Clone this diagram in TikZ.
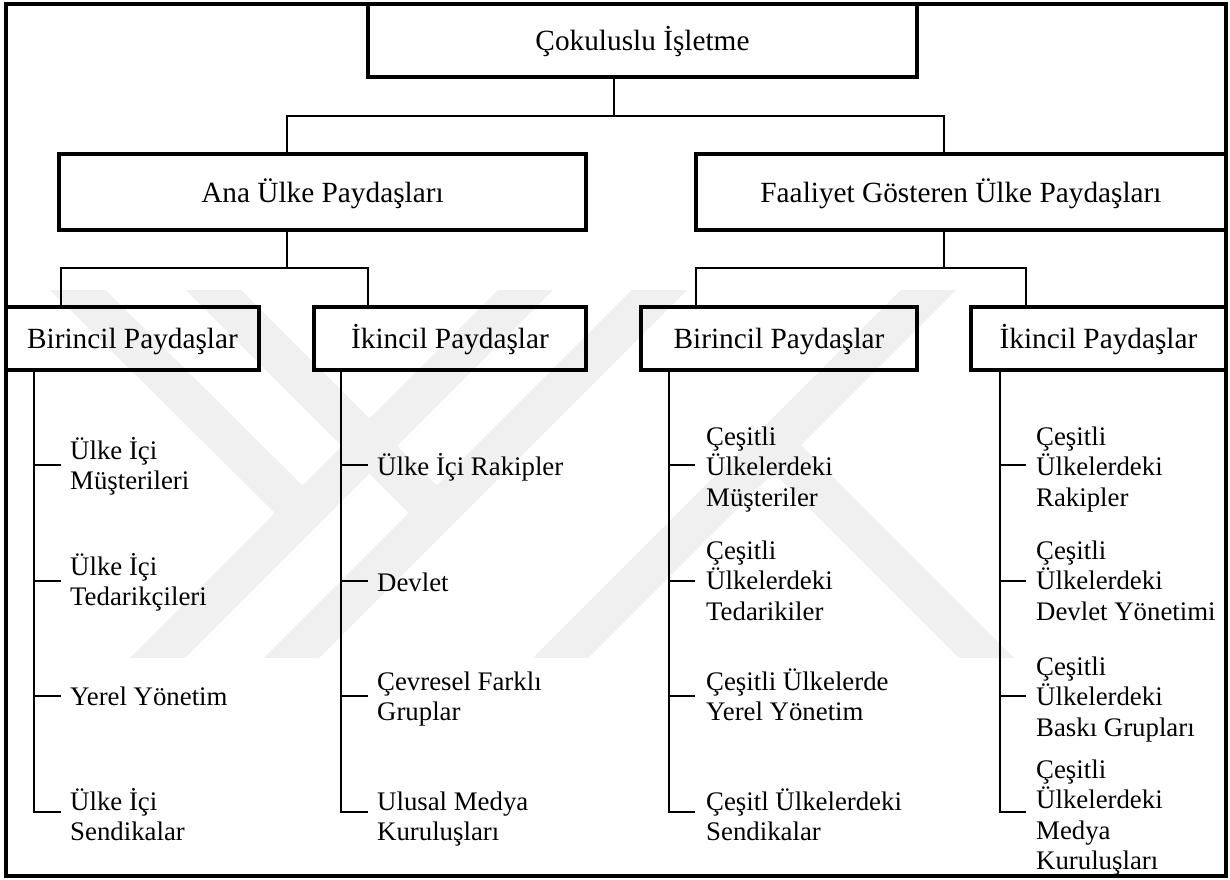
\documentclass[tikz,border=0pt]{standalone}
\usepackage{fontspec}
\setmainfont{Liberation Serif}
\newcommand{\boxfont}{\fontsize{29.3}{34}\selectfont}
\newcommand{\leaffont}{\fontsize{26.8}{30.5}\selectfont}
\newcommand{\lfitem}[1]{\vtop{\lineskiplimit=-100pt\relax #1}}
\begin{document}
\begin{tikzpicture}[x=1pt,y=-1pt,
  box/.style={draw, line width=3.5pt, inner sep=0pt, font=\boxfont, text height=26pt, text depth=6pt},
  conn/.style={line width=2.5pt, line join=miter},
  leaf/.style={anchor=base west, inner sep=0pt, font=\leaffont},
  wm/.style={line width=39pt, draw=black!6, line join=miter}]
\useasboundingbox (0,0) rectangle (1230,879);
\fill[white] (0,0) rectangle (1230,879);
% watermark
\begin{scope}
  \clip (0,290) rectangle (1230,657);
  \draw[wm] (118.5,697) -- (565.5,250);
  \draw[wm] (37.5,250) -- (302.5,513);
  \draw[wm] (252.5,697) -- (699.5,250);
  \draw[wm] (173.5,250) -- (436.5,513);
  \draw[wm] (521.5,697) -- (968.5,250);
  \draw[wm] (773.5,445) -- (1025.5,697);
\end{scope}
% frame
\draw[line width=3.5pt] (6,4) rectangle (1226,876);
% boxes
\node[box, minimum width=549pt, minimum height=73pt] (top) at (642.5,40.5) {Çokuluslu İşletme};
\node[box, minimum width=527pt, minimum height=76pt] (ana) at (322.5,192) {Ana Ülke Paydaşları};
\node[box, minimum width=530pt, minimum height=76pt] (faal) at (961,192) {Faaliyet Gösteren Ülke Paydaşları};
\node[box, minimum width=253pt, minimum height=63pt] (bl) at (132.5,338.5) {Birincil Paydaşlar};
\node[box, minimum width=272pt, minimum height=63pt] (il) at (450,338.5) {İkincil Paydaşlar};
\node[box, minimum width=276pt, minimum height=63pt] (br) at (779,338.5) {Birincil Paydaşlar};
\node[box, minimum width=255pt, minimum height=63pt] (ir) at (1098.5,338.5) {İkincil Paydaşlar};
% level 1 connectors
\coordinate (j0) at (614,116);
\coordinate (ja) at (287,116);
\coordinate (jf) at (944,116);
\draw[conn] (top.south -| j0) -- (j0);
\draw[conn] (ana.north -| ja) -- (ja) -- (jf) -- (faal.north -| jf);
% level 2 connectors
\coordinate (ka) at (287,268);
\coordinate (kal) at (61,268);
\coordinate (kar) at (368,268);
\draw[conn] (ana.south -| ka) -- (ka);
\draw[conn] (bl.north -| kal) -- (kal) -- (kar) -- (il.north -| kar);
\coordinate (kf) at (944,268);
\coordinate (kfl) at (696,268);
\coordinate (kfr) at (1026,268);
\draw[conn] (faal.south -| kf) -- (kf);
\draw[conn] (br.north -| kfl) -- (kfl) -- (kfr) -- (ir.north -| kfr);
% leaves column 1
\node[leaf] (a1) at (70,459) {\lfitem{\hbox{Ülke İçi}\hbox{Müşterileri}}};
\node[leaf] (a2) at (70,575) {\lfitem{\hbox{Ülke İçi}\hbox{Tedarikçileri}}};
\node[leaf] (a3) at (70,705) {\lfitem{\hbox{Yerel Yönetim}}};
\node[leaf] (a4) at (70,810) {\lfitem{\hbox{Ülke İçi}\hbox{Sendikalar}}};
% leaves column 2
\node[leaf] (b1) at (377,475) {\lfitem{\hbox{Ülke İçi Rakipler}}};
\node[leaf] (b2) at (377,591) {\lfitem{\hbox{Devlet}}};
\node[leaf] (b3) at (377,690) {\lfitem{\hbox{Çevresel Farklı}\hbox{Gruplar}}};
\node[leaf] (b4) at (377,810) {\lfitem{\hbox{Ulusal Medya}\hbox{Kuruluşları}}};
% leaves column 3
\node[leaf] (c1) at (706,445) {\lfitem{\hbox{Çeşitli}\hbox{Ülkelerdeki}\hbox{Müşteriler}}};
\node[leaf] (c2) at (706,559) {\lfitem{\hbox{Çeşitli}\hbox{Ülkelerdeki}\hbox{Tedarikiler}}};
\node[leaf] (c3) at (706,690) {\lfitem{\hbox{Çeşitli Ülkelerde}\hbox{Yerel Yönetim}}};
\node[leaf] (c4) at (706,810) {\lfitem{\hbox{Çeşitl Ülkelerdeki}\hbox{Sendikalar}}};
% leaves column 4
\node[leaf] (d1) at (1036,445) {\lfitem{\hbox{Çeşitli}\hbox{Ülkelerdeki}\hbox{Rakipler}}};
\node[leaf] (d2) at (1036,559) {\lfitem{\hbox{Çeşitli}\hbox{Ülkelerdeki}\hbox{Devlet Yönetimi}}};
\node[leaf] (d3) at (1036,675) {\lfitem{\hbox{Çeşitli}\hbox{Ülkelerdeki}\hbox{Baskı Grupları}}};
\node[leaf] (d4) at (1036,778) {\lfitem{\hbox{Çeşitli}\hbox{Ülkelerdeki}\hbox{Medya}\hbox{Kuruluşları}}};
% trunks and leaf connectors
\foreach \cl/\tx/\ex/\pn in {a/34/61/bl, b/341/368/il, c/669/695/br, d/1000/1026/ir}{
  \coordinate (\cl t1) at (\tx,465);
  \coordinate (\cl t2) at (\tx,581);
  \coordinate (\cl t3) at (\tx,696);
  \coordinate (\cl t4) at (\tx,812);
  \coordinate (\cl e1) at (\ex,465);
  \coordinate (\cl e2) at (\ex,581);
  \coordinate (\cl e3) at (\ex,696);
  \coordinate (\cl e4) at (\ex,812);
  \draw[conn] (\pn.south -| \cl t1) -- (\cl t4) -- (\cl e4);
  \draw[conn] (\cl t1) -- (\cl e1);
  \draw[conn] (\cl t2) -- (\cl e2);
  \draw[conn] (\cl t3) -- (\cl e3);
}
\end{tikzpicture}
\end{document}
